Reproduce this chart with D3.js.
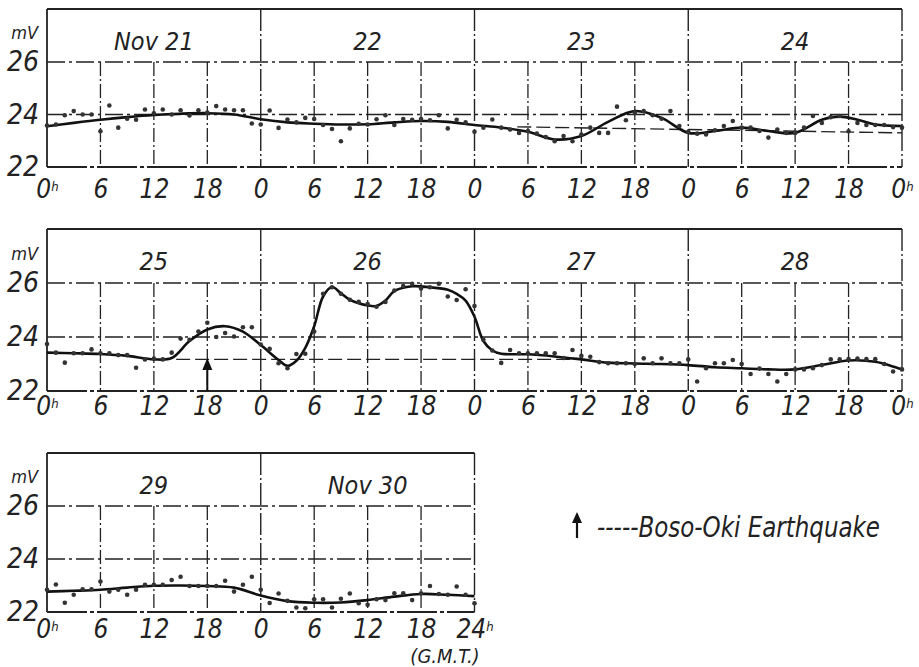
<!DOCTYPE html>
<html>
<head>
<meta charset="utf-8">
<style>
body { margin: 0; background: #fff; }
svg text { font-family: "Liberation Sans Narrow", "DejaVu Sans Condensed", "Roboto Condensed", sans-serif; font-style: italic; fill: #222; }
</style>
</head>
<body>
<div id="chart"></div>
<script src="https://d3js.org/d3.v7.min.js"></script>
<script>
// hourly readings in mV, h0..h23 (last day of each row also carries h24)
const dots21 = [23.58, 23.62, 23.97, 24.13, 24.0, 24.0, 23.36, 24.34, 23.5, 23.84, 23.8, 24.19, 24.05, 24.19, 24.0, 24.16, 23.96, 24.16, 24.07, 24.32, 24.19, 24.16, 24.16, 23.66];
const dots22 = [23.62, 24.15, 23.49, 23.81, 23.7, 23.87, 23.83, 23.6, 23.45, 22.98, 23.47, 23.65, 23.62, 23.82, 23.97, 23.6, 23.83, 23.8, 23.83, 23.78, 23.97, 23.47, 23.8, 23.7];
const dots23 = [23.34, 23.5, 23.81, 23.5, 23.43, 23.3, 23.37, 23.27, 23.14, 22.98, 23.18, 22.98, 23.24, 23.5, 23.3, 23.3, 24.3, 23.78, 24.07, 24.13, 23.97, 23.84, 24.13, 23.56];
const dots24 = [23.34, 23.27, 23.24, 23.4, 23.56, 23.75, 23.5, 23.5, 23.37, 23.12, 23.43, 23.3, 23.3, 23.5, 23.94, 23.68, 23.9, 23.94, 23.36, 23.68, 23.6, 23.6, 23.6, 23.52, 23.5];
const dots25 = [23.74, 23.42, 23.05, 23.4, 23.4, 23.54, 23.4, 23.4, 23.33, 23.33, 22.86, 23.17, 23.2, 23.17, 23.42, 23.94, 23.9, 24.2, 24.53, 24.0, 24.15, 24.02, 24.36, 24.36];
const dots26 = [23.72, 23.56, 23.03, 22.84, 23.37, 23.38, 24.2, 25.6, 25.84, 25.6, 25.38, 25.3, 25.22, 25.12, 25.3, 25.72, 25.89, 25.97, 25.8, 25.84, 25.97, 25.5, 25.37, 25.77];
const dots27 = [25.15, 23.9, 23.5, 23.04, 23.52, 23.4, 23.4, 23.4, 23.4, 23.4, 23.22, 23.52, 23.3, 23.27, 23.07, 23.03, 23.03, 23.03, 23.0, 23.21, 23.03, 23.21, 23.03, 23.03];
const dots28 = [23.17, 22.35, 22.84, 23.03, 23.03, 23.15, 23.0, 22.63, 22.83, 22.63, 22.35, 22.63, 22.8, 22.8, 22.84, 22.96, 23.17, 23.17, 23.18, 23.2, 23.18, 23.18, 23.0, 22.72, 22.8];
const dots29 = [22.84, 23.04, 22.35, 22.65, 22.86, 22.86, 23.15, 22.77, 22.84, 22.65, 22.84, 23.03, 23.03, 23.03, 23.21, 23.33, 22.98, 22.98, 22.98, 22.98, 23.18, 22.77, 23.03, 23.33];
const dots30 = [22.84, 22.34, 22.7, 22.42, 22.17, 22.14, 22.48, 22.48, 22.17, 22.5, 22.7, 22.33, 22.27, 22.48, 22.45, 22.71, 22.71, 22.45, 22.71, 22.98, 22.68, 22.65, 22.96, 22.65, 22.33];

// smoothed curve, [hour from start of row, mV]
const curve1 = [[0, 23.55], [3, 23.68], [6, 23.8], [9, 23.9], [12, 23.98], [15, 24.03], [18, 24.05], [21, 24.0],
  [24, 23.82], [27, 23.7], [30, 23.65], [33, 23.62], [36, 23.63], [39, 23.7], [42, 23.75], [45, 23.72],
  [48, 23.6], [51, 23.5], [54, 23.34], [57, 23.05], [60, 23.18], [63, 23.72], [66, 24.13], [69, 23.87],
  [72, 23.3], [75, 23.37], [78, 23.5], [81, 23.37], [84, 23.3], [87, 23.8], [89, 23.92], [91, 23.8], [93, 23.62], [96, 23.56]];
const curve2 = [[0, 23.42], [3, 23.4], [6, 23.37], [9, 23.3], [12, 23.17], [14, 23.22], [16, 23.85], [18, 24.28], [20, 24.4], [22, 24.2],
  [24, 23.7], [26, 23.15], [27, 22.93], [28, 23.12], [29, 23.6], [30, 24.4], [31, 25.5], [32, 25.85], [33, 25.62], [34, 25.38],
  [36, 25.17], [37, 25.15], [38, 25.35], [39, 25.7], [41, 25.88], [43, 25.84], [45, 25.75], [46, 25.6], [47, 25.35],
  [48, 24.75], [49, 23.85], [50, 23.5], [51, 23.38], [54, 23.36], [57, 23.28], [60, 23.17], [63, 23.05], [66, 23.02], [69, 23.0],
  [72, 22.96], [75, 22.88], [78, 22.84], [81, 22.8], [84, 22.8], [87, 22.96], [90, 23.13], [93, 23.08], [96, 22.8]];
const curve3 = [[0, 22.77], [3, 22.8], [6, 22.84], [9, 22.92], [12, 22.99], [15, 23.0], [18, 22.98], [21, 22.92],
  [24, 22.62], [27, 22.41], [30, 22.35], [33, 22.36], [36, 22.45], [39, 22.58], [42, 22.68], [45, 22.65], [48, 22.6]];

// dashed reference levels
const ref1 = [[52.8, 23.53], [96, 23.3]];
const ref2 = [[14.5, 23.17], [60, 23.17]];

const dayLabels1 = ["Nov 21", "22", "23", "24"];
const dayLabels2 = ["25", "26", "27", "28"];
const dayLabels3 = ["29", "Nov 30"];
const yTicks = [22, 24, 26];
const quakeHour = 18; // row 2, Nov 25 18h GMT

const width = 919, height = 667;
const svg = d3.select("#chart").append("svg")
  .attr("width", width)
  .attr("height", height)
  .style("background", "#fff");

const x = d3.scaleLinear().domain([0, 96]).range([47, 902]);

const rows = [
  { labels: dayLabels1, dots: [dots21, dots22, dots23, dots24].flat(), curve: curve1, ref: ref1, top: 9, y26: 62, y22: 167, span: 96, tickDy: 13, last: "0" },
  { labels: dayLabels2, dots: [dots25, dots26, dots27, dots28].flat(), curve: curve2, ref: ref2, top: 229, y26: 283, y22: 391, span: 96, tickDy: 6, last: "0" },
  { labels: dayLabels3, dots: [dots29, dots30].flat(), curve: curve3, ref: null, top: 453, y26: 506, y22: 612, span: 48, tickDy: 8, last: "24" }
];

rows.forEach((r, ri) => {
  const y = d3.scaleLinear().domain([22, 26]).range([r.y22, r.y26]);
  const g = svg.append("g");
  const x0 = x(0), x1 = x(r.span);
  const grid = g.append("g").attr("stroke", "#222").attr("fill", "none");

  // frame top
  grid.append("line").attr("x1", x0).attr("x2", x1).attr("y1", r.top).attr("y2", r.top)
    .attr("stroke-width", 2.2);
  // horizontal levels
  grid.selectAll(".h").data([26, 24]).join("line")
    .attr("x1", x0).attr("x2", x1).attr("y1", d => y(d)).attr("y2", d => y(d))
    .attr("stroke-width", 1.4).attr("stroke-dasharray", "18,4,3,4");
  grid.append("line").attr("x1", x0).attr("x2", x1).attr("y1", y(22)).attr("y2", y(22))
    .attr("stroke-width", 1.8).attr("stroke-dasharray", "40,3,4,3");

  // 6-hour verticals
  const sixes = d3.range(6, r.span, 6).filter(h => h % 24 !== 0);
  grid.selectAll(".v").data(sixes).join("line")
    .attr("x1", d => x(d)).attr("x2", d => x(d)).attr("y1", y(26)).attr("y2", y(22))
    .attr("stroke-width", 1.3).attr("stroke-dasharray", "14,3,2,3");
  // day boundaries
  const bounds = d3.range(0, r.span + 1, 24);
  grid.selectAll(".d").data(bounds).join("line")
    .attr("x1", d => x(d)).attr("x2", d => x(d)).attr("y1", r.top).attr("y2", y(22))
    .attr("stroke-width", d => d === 0 ? 1.8 : 1.4)
    .attr("stroke-dasharray", d => d === 0 ? null : "22,3,2,3");

  // reference dashed level
  if (r.ref) {
    g.append("path").datum(r.ref)
      .attr("d", d3.line().x(d => x(d[0])).y(d => y(d[1])))
      .attr("fill", "none").attr("stroke", "#222").attr("stroke-width", 1.4)
      .attr("stroke-dasharray", "14,5");
  }

  // smoothed curve
  g.append("path").datum(r.curve)
    .attr("d", d3.line().x(d => x(d[0])).y(d => y(d[1])).curve(d3.curveCatmullRom.alpha(0.5)))
    .attr("fill", "none").attr("stroke", "#111").attr("stroke-width", 2.6);

  // hourly dots
  g.append("g").selectAll("circle").data(r.dots).join("circle")
    .attr("cx", (d, i) => x(i)).attr("cy", d => y(d))
    .attr("r", 2.3).attr("fill", "#333");

  // day labels
  g.selectAll(".day").data(r.labels).join("text")
    .attr("x", (d, i) => x(i * 24 + 12))
    .attr("y", r.top + 0.6 * (r.y26 - r.top))
    .attr("dy", "0.35em")
    .attr("text-anchor", "middle")
    .style("font-size", "25px")
    .text(d => d);

  // y axis
  const ya = g.append("g").attr("transform", "translate(41,0)")
    .call(d3.axisLeft(y).tickValues(yTicks).tickFormat(d3.format("d")).tickSize(0).tickPadding(2));
  ya.select(".domain").remove();
  ya.selectAll("text").style("font-size", "28px").attr("fill", "#222");

  g.append("text")
    .attr("x", 38).attr("y", r.top + 0.45 * (r.y26 - r.top))
    .attr("dy", "0.35em").attr("text-anchor", "end")
    .style("font-size", "18px")
    .text("mV");

  // x axis
  const xa = g.append("g").attr("transform", `translate(0,${r.y22})`)
    .call(d3.axisBottom(x).tickValues(d3.range(0, r.span + 1, 6)).tickSize(0).tickPadding(r.tickDy)
      .tickFormat(d => d === r.span ? r.last : String(d % 24)));
  xa.select(".domain").remove();
  xa.selectAll("text").style("font-size", "26px").attr("fill", "#222")
    .each(function(d) {
      if (d === 0 || d === r.span) {
        d3.select(this).append("tspan").attr("dy", "-0.6em").style("font-size", "13px").text("h");
      }
    });

  if (ri === 1) {
    // quake marker
    const ax = x(quakeHour);
    g.append("line").attr("x1", ax).attr("x2", ax).attr("y1", y(22)).attr("y2", y(22) - 26)
      .attr("stroke", "#111").attr("stroke-width", 2);
    g.append("path")
      .attr("d", `M${ax},${y(22) - 33}L${ax - 5},${y(22) - 21}L${ax + 5},${y(22) - 21}Z`)
      .attr("fill", "#111");
  }
  if (ri === 2) {
    g.append("text").attr("x", 445).attr("y", 663).attr("text-anchor", "middle")
      .style("font-size", "20px").text("(G.M.T.)");
  }
});

// legend
const lg = svg.append("g");
lg.append("line").attr("x1", 577).attr("x2", 577).attr("y1", 538).attr("y2", 520)
  .attr("stroke", "#111").attr("stroke-width", 2.2);
lg.append("path").attr("d", "M577,512L572,523L582,523Z").attr("fill", "#111");
lg.append("text").attr("x", 597).attr("y", 537)
  .style("font-size", "28px")
  .attr("textLength", 283).attr("lengthAdjust", "spacingAndGlyphs")
  .text("-----Boso-Oki Earthquake");
</script>
</body>
</html>
